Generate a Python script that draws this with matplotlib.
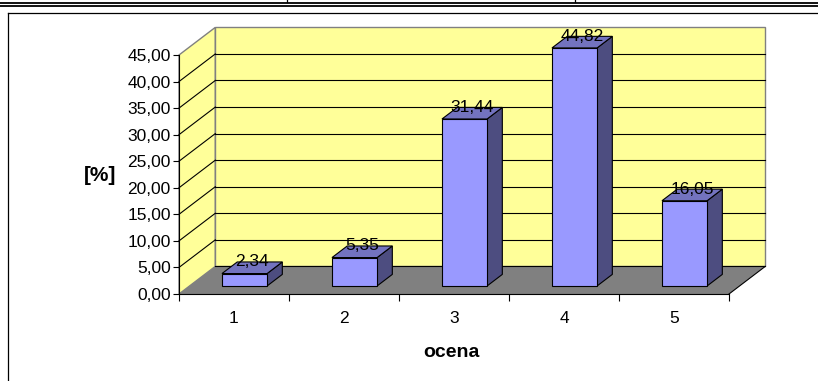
#!/usr/bin/env python3
"""Excel-style 3D bar chart: share of grades (ocena) in percent."""
import matplotlib
matplotlib.use("Agg")
import matplotlib.pyplot as plt
from matplotlib.patches import Polygon
from matplotlib.lines import Line2D
from matplotlib.ticker import FuncFormatter

categories = [1, 2, 3, 4, 5]
tick_labels = ["1", "2", "3", "4", "5"]
values = [2.34, 5.35, 31.44, 44.82, 16.05]
y_ticks = [0, 5, 10, 15, 20, 25, 30, 35, 40, 45]

plt.rcParams["font.family"] = ["Liberation Sans", "DejaVu Sans"]

W, H = 818, 381
fig = plt.figure(figsize=(W / 100, H / 100), dpi=100)

# plot area = front plane, x 0.5..5.5, y 0..45
x0, x1 = categories[0] - 0.5, categories[-1] + 0.5
ymax = y_ticks[-1]
ax = fig.add_axes([179 / W, (H - 294) / H, 550 / W, 239 / H])
ax.set_xlim(x0, x1)
ax.set_ylim(0, ymax)

# 3D depth of the chart box and of the bars (in data units)
dx, dy = 0.33, 5.2
bar_w = 0.41
bdx, bdy = 0.42 * dx, 0.42 * dy
ox, oy = (dx - bdx) / 2, (dy - bdy) / 2

wall = "#FFFF99"
edge_grey = "#808080"

# side wall, back wall, floor
ax.add_patch(Polygon([(x0, 0), (x0 + dx, dy), (x0 + dx, ymax + dy), (x0, ymax)],
                     closed=True, fc=wall, ec=edge_grey, lw=1, clip_on=False, zorder=1))
ax.add_patch(Polygon([(x0 + dx, dy), (x1 + dx, dy), (x1 + dx, ymax + dy), (x0 + dx, ymax + dy)],
                     closed=True, fc=wall, ec=edge_grey, lw=1, clip_on=False, zorder=1))
ax.add_patch(Polygon([(x0, 0), (x1, 0), (x1 + dx, dy), (x0 + dx, dy)],
                     closed=True, fc="#808080", ec="none", clip_on=False, zorder=2))
ax.plot([x1, x1 + dx], [0, dy], color="black", lw=0.8, clip_on=False, zorder=3)

# gridlines on back wall and side wall
for t in y_ticks[:-1]:
    ax.plot([x0 + dx, x1 + dx], [t + dy, t + dy], color="black", lw=0.8, clip_on=False, zorder=3)
for t in y_ticks[1:-1]:
    ax.plot([x0, x0 + dx], [t, t + dy], color="black", lw=0.8, clip_on=False, zorder=3)

# bars
for c, v in zip(categories, values):
    l = c - bar_w / 2 + ox
    r = c + bar_w / 2 + ox
    b = oy
    t = v + oy
    front = [(l, b), (r, b), (r, t), (l, t)]
    side = [(r, b), (r + bdx, b + bdy), (r + bdx, t + bdy), (r, t)]
    top = [(l, t), (r, t), (r + bdx, t + bdy), (l + bdx, t + bdy)]
    ax.add_patch(Polygon(side, closed=True, fc="#4D4D80", ec="black", lw=0.8, clip_on=False, zorder=4))
    ax.add_patch(Polygon(top, closed=True, fc="#7373BF", ec="black", lw=0.8, clip_on=False, zorder=4))
    ax.add_patch(Polygon(front, closed=True, fc="#9999FF", ec="black", lw=0.8, clip_on=False, zorder=4))
    ax.text(c + ox + bdx / 2, t + bdy, f"{v:.2f}".replace(".", ","),
            ha="center", va="center", fontsize=12.5, zorder=6)

# axes
for s in ["top", "right"]:
    ax.spines[s].set_visible(False)
ax.spines["left"].set_zorder(5)
ax.spines["bottom"].set_zorder(5)
ax.patch.set_visible(False)
ax.set_yticks(y_ticks)
ax.yaxis.set_major_formatter(FuncFormatter(lambda v, p: f"{v:.2f}".replace(".", ",")))
ax.tick_params(axis="y", length=4, width=0.8, pad=2, labelsize=12.5)
ax.set_xticks(categories)
ax.set_xticklabels(tick_labels)
ax.set_xticks([c + 0.5 for c in [0] + categories], minor=True)
ax.tick_params(axis="x", which="major", length=0, pad=12, labelsize=12.5)
ax.tick_params(axis="x", which="minor", length=5, width=0.8)

ax.set_ylabel("[%]", rotation=0, fontsize=15, fontweight="bold", va="center", ha="center")
ax.yaxis.set_label_coords(-0.144, 0.494)
ax.set_xlabel("ocena", fontsize=14, fontweight="bold", va="center", ha="center")
ax.xaxis.set_label_coords(0.495, -0.243)

# chart frame and the table rules above it
fig.add_artist(Line2D([8 / W, 8 / W], [0, 1 - 12.5 / H], color="black", lw=0.9))
fig.add_artist(Line2D([8 / W, 1], [1 - 12.5 / H, 1 - 12.5 / H], color="black", lw=0.9))
for yy in (2.5, 5.5):
    fig.add_artist(Line2D([0, 1], [1 - yy / H, 1 - yy / H], color="black", lw=1.3))
for xx in (287, 575):
    fig.add_artist(Line2D([xx / W, xx / W], [1, 1 - 2 / H], color="black", lw=0.9))

fig.savefig("out.png", dpi=100)
